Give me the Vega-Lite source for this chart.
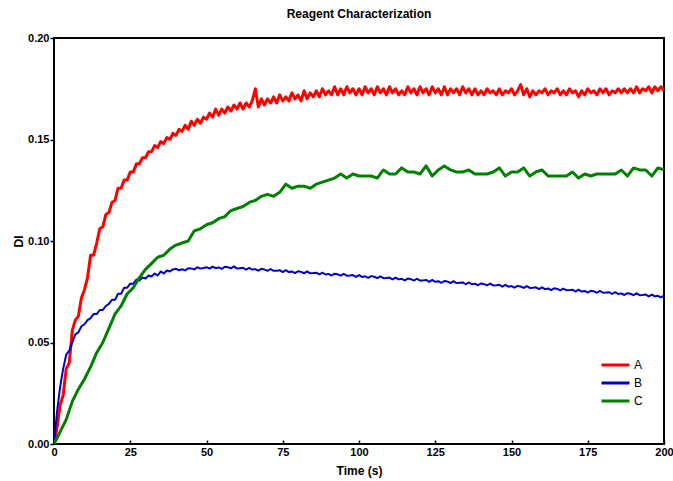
{
  "$schema": "https://vega.github.io/schema/vega-lite/v6.json",
  "width": 610,
  "height": 406,
  "autosize": {"type": "none"},
  "padding": {"left": 54, "top": 38, "right": 9, "bottom": 37},
  "background": "white",
  "title": {"text": "Reagent Characterization", "font": "Liberation Sans", "fontSize": 12, "fontWeight": "bold", "color": "black", "anchor": "middle", "offset": 11},
  "config": {
    "view": {"stroke": "black", "strokeWidth": 2},
    "axis": {"domain": false, "grid": false, "labelFlush": false, "tickColor": "black", "tickWidth": 1.5, "labelFont": "Liberation Sans", "labelFontSize": 11, "labelFontWeight": "bold", "labelColor": "black", "titleFont": "Liberation Sans", "titleFontSize": 12, "titleFontWeight": "bold", "titleColor": "black"}
  },
  "data": {"values": [
{"t":0,"A":0.000,"B":0.000,"C":0.000},{"t":1,"A":0.008,"B":0.016},{"t":2,"A":0.019,"B":0.028,"C":0.006},{"t":3,"A":0.024,"B":0.037},{"t":4,"A":0.037,"B":0.044,"C":0.012},{"t":5,"A":0.040,"B":0.046},{"t":6,"A":0.056,"B":0.050,"C":0.021},{"t":7,"A":0.061,"B":0.054},{"t":8,"A":0.063,"B":0.055,"C":0.027},{"t":9,"A":0.072,"B":0.058},
{"t":10,"A":0.076,"B":0.059,"C":0.032},{"t":11,"A":0.082,"B":0.061},{"t":12,"A":0.093,"B":0.062,"C":0.038},{"t":13,"A":0.093,"B":0.064},{"t":14,"A":0.099,"B":0.064,"C":0.045},{"t":15,"A":0.106,"B":0.066},{"t":16,"A":0.107,"B":0.066,"C":0.050},{"t":17,"A":0.113,"B":0.068},{"t":18,"A":0.114,"B":0.069,"C":0.057},{"t":19,"A":0.119,"B":0.071},
{"t":20,"A":0.120,"B":0.071,"C":0.064},{"t":21,"A":0.126,"B":0.074},{"t":22,"A":0.126,"B":0.074,"C":0.068},{"t":23,"A":0.130,"B":0.077},{"t":24,"A":0.130,"B":0.077,"C":0.074},{"t":25,"A":0.134,"B":0.079},{"t":26,"A":0.134,"B":0.079,"C":0.077},{"t":27,"A":0.138,"B":0.081},{"t":28,"A":0.138,"B":0.0805,"C":0.082},{"t":29,"A":0.141,"B":0.082},
{"t":30,"A":0.141,"B":0.0815,"C":0.086},{"t":31,"A":0.144,"B":0.083},{"t":32,"A":0.144,"B":0.0825,"C":0.089},{"t":33,"A":0.147,"B":0.084},{"t":34,"A":0.146,"B":0.083,"C":0.092},{"t":35,"A":0.149,"B":0.085},{"t":36,"A":0.148,"B":0.084,"C":0.093},{"t":37,"A":0.151,"B":0.0855},{"t":38,"A":0.150,"B":0.085,"C":0.096},{"t":39,"A":0.153,"B":0.086},
{"t":40,"A":0.152,"B":0.0863,"C":0.098},{"t":41,"A":0.155,"B":0.0856},{"t":42,"A":0.154,"B":0.0861,"C":0.099},{"t":43,"A":0.157,"B":0.0855},{"t":44,"A":0.155,"B":0.0866,"C":0.100},{"t":45,"A":0.159,"B":0.0865},{"t":46,"A":0.157,"B":0.0860,"C":0.105},{"t":47,"A":0.160,"B":0.0871},{"t":48,"A":0.158,"B":0.0864,"C":0.106},{"t":49,"A":0.161,"B":0.0867},
{"t":50,"A":0.160,"B":0.0871,"C":0.108},{"t":51,"A":0.163,"B":0.0864},{"t":52,"A":0.161,"B":0.0874,"C":0.109},{"t":53,"A":0.165,"B":0.0866},{"t":54,"A":0.162,"B":0.0870,"C":0.111},{"t":55,"A":0.165,"B":0.0863},{"t":56,"A":0.163,"B":0.0873,"C":0.112},{"t":57,"A":0.166,"B":0.0871},{"t":58,"A":0.164,"B":0.0865,"C":0.115},{"t":59,"A":0.167,"B":0.0875},
{"t":60,"A":0.165,"B":0.0864,"C":0.116},{"t":61,"A":0.168,"B":0.0866},{"t":62,"A":0.165,"B":0.0868,"C":0.117},{"t":63,"A":0.168,"B":0.0859},{"t":64,"A":0.166,"B":0.0868,"C":0.119},{"t":65,"A":0.169,"B":0.0859},{"t":66,"A":0.175,"B":0.0862,"C":0.120},{"t":67,"A":0.166,"B":0.0854},{"t":68,"A":0.170,"B":0.0863,"C":0.122},{"t":69,"A":0.167,"B":0.0860},
{"t":70,"A":0.170,"B":0.0853,"C":0.123},{"t":71,"A":0.168,"B":0.0862},{"t":72,"A":0.171,"B":0.0853,"C":0.122},{"t":73,"A":0.168,"B":0.0854},{"t":74,"A":0.172,"B":0.0856,"C":0.124},{"t":75,"A":0.169,"B":0.0847},{"t":76,"A":0.171,"B":0.0856,"C":0.128},{"t":77,"A":0.169,"B":0.0847},{"t":78,"A":0.173,"B":0.0850,"C":0.126},{"t":79,"A":0.170,"B":0.0842},
{"t":80,"A":0.172,"B":0.0851,"C":0.127},{"t":81,"A":0.169,"B":0.0848},{"t":82,"A":0.174,"B":0.0841,"C":0.127},{"t":83,"A":0.170,"B":0.0850},{"t":84,"A":0.173,"B":0.0841,"C":0.126},{"t":85,"A":0.171,"B":0.0842},{"t":86,"A":0.174,"B":0.0844,"C":0.128},{"t":87,"A":0.171,"B":0.0835},{"t":88,"A":0.175,"B":0.0844,"C":0.129},{"t":89,"A":0.172,"B":0.0835},
{"t":90,"A":0.174,"B":0.0838,"C":0.130},{"t":91,"A":0.172,"B":0.0830},{"t":92,"A":0.176,"B":0.0839,"C":0.131},{"t":93,"A":0.172,"B":0.0836},{"t":94,"A":0.175,"B":0.0829,"C":0.133},{"t":95,"A":0.172,"B":0.0838},{"t":96,"A":0.176,"B":0.0829,"C":0.131},{"t":97,"A":0.173,"B":0.0830},{"t":98,"A":0.175,"B":0.0832,"C":0.133},{"t":99,"A":0.172,"B":0.0823},
{"t":100,"A":0.175,"B":0.0832,"C":0.132},{"t":101,"A":0.172,"B":0.0823},{"t":102,"A":0.176,"B":0.0826,"C":0.132},{"t":103,"A":0.173,"B":0.0818},{"t":104,"A":0.175,"B":0.0827,"C":0.132},{"t":105,"A":0.172,"B":0.0824},{"t":106,"A":0.176,"B":0.0817,"C":0.131},{"t":107,"A":0.173,"B":0.0826},{"t":108,"A":0.175,"B":0.0817,"C":0.135},{"t":109,"A":0.172,"B":0.0818},
{"t":110,"A":0.176,"B":0.0820,"C":0.133},{"t":111,"A":0.173,"B":0.0811},{"t":112,"A":0.175,"B":0.0820,"C":0.133},{"t":113,"A":0.172,"B":0.0811},{"t":114,"A":0.174,"B":0.0814,"C":0.136},{"t":115,"A":0.172,"B":0.0806},{"t":116,"A":0.176,"B":0.0815,"C":0.134},{"t":117,"A":0.173,"B":0.0812},{"t":118,"A":0.175,"B":0.0805,"C":0.134},{"t":119,"A":0.172,"B":0.0814},
{"t":120,"A":0.176,"B":0.0805,"C":0.133},{"t":121,"A":0.173,"B":0.0806},{"t":122,"A":0.175,"B":0.0808,"C":0.137},{"t":123,"A":0.172,"B":0.0799},{"t":124,"A":0.176,"B":0.0808,"C":0.132},{"t":125,"A":0.173,"B":0.0799},{"t":126,"A":0.175,"B":0.0802,"C":0.135},{"t":127,"A":0.172,"B":0.0794},{"t":128,"A":0.176,"B":0.0803,"C":0.137},{"t":129,"A":0.172,"B":0.0800},
{"t":130,"A":0.175,"B":0.0793,"C":0.135},{"t":131,"A":0.173,"B":0.0802},{"t":132,"A":0.175,"B":0.0793,"C":0.134},{"t":133,"A":0.172,"B":0.0794},{"t":134,"A":0.176,"B":0.0796,"C":0.134},{"t":135,"A":0.173,"B":0.0787},{"t":136,"A":0.175,"B":0.0796,"C":0.135},{"t":137,"A":0.172,"B":0.0787},{"t":138,"A":0.175,"B":0.0790,"C":0.133},{"t":139,"A":0.172,"B":0.0782},
{"t":140,"A":0.174,"B":0.0791,"C":0.133},{"t":141,"A":0.172,"B":0.0788},{"t":142,"A":0.175,"B":0.0781,"C":0.133},{"t":143,"A":0.173,"B":0.0790},{"t":144,"A":0.174,"B":0.0781,"C":0.134},{"t":145,"A":0.172,"B":0.0782},{"t":146,"A":0.175,"B":0.0784,"C":0.136},{"t":147,"A":0.172,"B":0.0775},{"t":148,"A":0.174,"B":0.0784,"C":0.132},{"t":149,"A":0.173,"B":0.0775},
{"t":150,"A":0.175,"B":0.0778,"C":0.134},{"t":151,"A":0.172,"B":0.0770},{"t":152,"A":0.174,"B":0.0779,"C":0.134},{"t":153,"A":0.177,"B":0.0776},{"t":154,"A":0.172,"B":0.0769,"C":0.136},{"t":155,"A":0.175,"B":0.0778},{"t":156,"A":0.171,"B":0.0769,"C":0.132},{"t":157,"A":0.174,"B":0.0770},{"t":158,"A":0.172,"B":0.0772,"C":0.134},{"t":159,"A":0.174,"B":0.0763},
{"t":160,"A":0.173,"B":0.0772,"C":0.135},{"t":161,"A":0.175,"B":0.0763},{"t":162,"A":0.172,"B":0.0766,"C":0.132},{"t":163,"A":0.174,"B":0.0758},{"t":164,"A":0.173,"B":0.0767,"C":0.132},{"t":165,"A":0.175,"B":0.0764},{"t":166,"A":0.172,"B":0.0757,"C":0.132},{"t":167,"A":0.174,"B":0.0766},{"t":168,"A":0.172,"B":0.0757,"C":0.132},{"t":169,"A":0.175,"B":0.0758},
{"t":170,"A":0.173,"B":0.0760,"C":0.134},{"t":171,"A":0.174,"B":0.0751},{"t":172,"A":0.171,"B":0.0760,"C":0.131},{"t":173,"A":0.174,"B":0.0751},{"t":174,"A":0.172,"B":0.0754,"C":0.133},{"t":175,"A":0.175,"B":0.0746},{"t":176,"A":0.173,"B":0.0755,"C":0.132},{"t":177,"A":0.174,"B":0.0752},{"t":178,"A":0.172,"B":0.0745,"C":0.133},{"t":179,"A":0.175,"B":0.0754},
{"t":180,"A":0.173,"B":0.0745,"C":0.133},{"t":181,"A":0.175,"B":0.0746},{"t":182,"A":0.172,"B":0.0748,"C":0.133},{"t":183,"A":0.174,"B":0.0739},{"t":184,"A":0.173,"B":0.0748,"C":0.133},{"t":185,"A":0.175,"B":0.0739},{"t":186,"A":0.173,"B":0.0742,"C":0.135},{"t":187,"A":0.175,"B":0.0734},{"t":188,"A":0.173,"B":0.0743,"C":0.132},{"t":189,"A":0.175,"B":0.0740},
{"t":190,"A":0.173,"B":0.0733,"C":0.136},{"t":191,"A":0.176,"B":0.0742},{"t":192,"A":0.173,"B":0.0733,"C":0.135},{"t":193,"A":0.175,"B":0.0734},{"t":194,"A":0.174,"B":0.0736,"C":0.135},{"t":195,"A":0.176,"B":0.0727},{"t":196,"A":0.173,"B":0.0736,"C":0.132},{"t":197,"A":0.176,"B":0.0727},{"t":198,"A":0.174,"B":0.0730,"C":0.136},{"t":199,"A":0.176,"B":0.0722},
{"t":200,"A":0.174,"B":0.0731,"C":0.135}
  ]},
  "transform": [
    {"fold": ["A", "B", "C"], "as": ["series", "DI"]},
    {"filter": "isValid(datum.DI)"}
  ],
  "mark": {"type": "line", "clip": true, "strokeJoin": "round"},
  "encoding": {
    "x": {"field": "t", "type": "quantitative", "title": "Time (s)",
      "scale": {"domain": [0, 200], "nice": false, "zero": false},
      "axis": {"values": [0, 25, 50, 75, 100, 125, 150, 175, 200], "tickSize": -4, "labelPadding": 6, "titlePadding": 8}},
    "y": {"field": "DI", "type": "quantitative", "title": "DI",
      "scale": {"domain": [0, 0.2], "nice": false},
      "axis": {"values": [0, 0.05, 0.1, 0.15, 0.2], "format": ".2f", "tickSize": 4, "labelPadding": 1, "titlePadding": 2}},
    "color": {"field": "series", "type": "nominal",
      "scale": {"domain": ["A", "B", "C"], "range": ["#ff0000", "#0000cc", "#008000"]},
      "legend": {"title": null, "orient": "none", "legendX": 546, "legendY": 318, "symbolType": "stroke", "symbolSize": 784, "symbolStrokeWidth": 3, "clipHeight": 18, "rowPadding": 0, "padding": 0, "labelFont": "Liberation Sans", "labelFontSize": 12, "labelColor": "black", "labelOffset": 3}},
    "strokeWidth": {"condition": {"test": "datum.series === 'B'", "value": 2}, "value": 3}
  }
}
